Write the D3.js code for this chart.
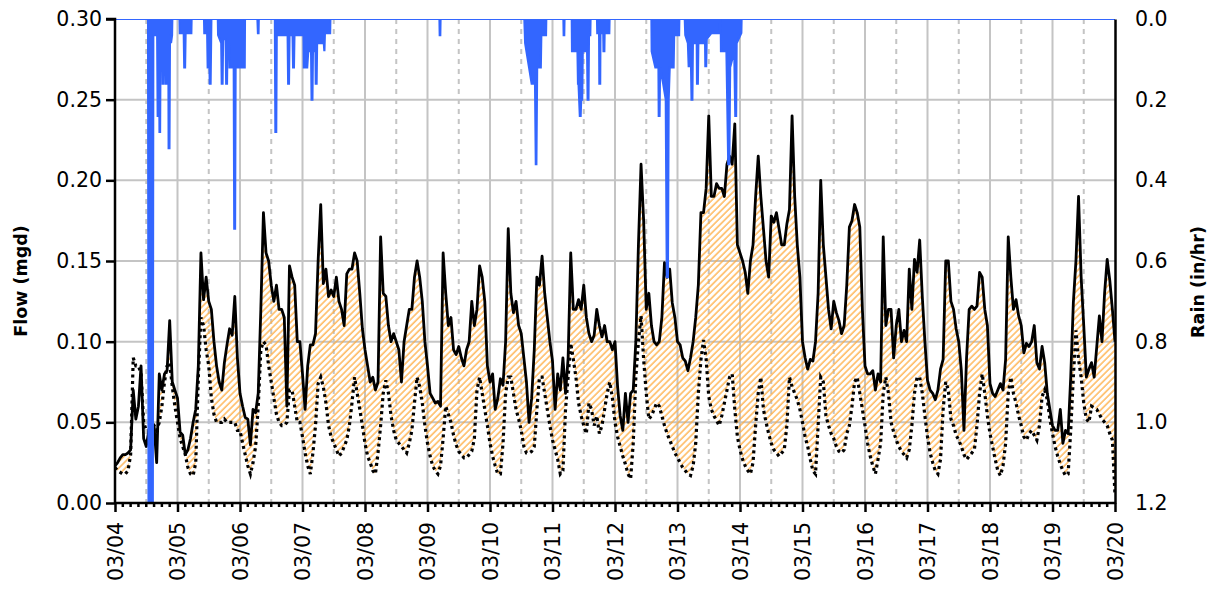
<!DOCTYPE html>
<html><head><meta charset="utf-8">
<script src="https://cdn.jsdelivr.net/npm/d3@7"></script>
<style>body{margin:0;background:#fff} text{font-family:"DejaVu Sans",sans-serif}</style>
</head><body><svg id="c" width="1216" height="594"></svg>
<script>
const dayLabels = ["03/04","03/05","03/06","03/07","03/08","03/09","03/10","03/11","03/12","03/13","03/14","03/15","03/16","03/17","03/18","03/19","03/20"];
const flowTicks = [0,0.05,0.10,0.15,0.20,0.25,0.30];
const rainTicks = [0,0.2,0.4,0.6,0.8,1.0,1.2];

// hourly flow (mgd), 03/04 00:00 .. 03/20 00:00
const flow = [
0.023,0.025,0.028,0.03,0.03,0.031,0.033,0.07,0.052,0.06,0.085,0.04,0.035,0.045,0.048,0.048,0.025,0.08,0.07,0.08,0.082,0.113,0.075,0.07,
0.065,0.044,0.042,0.03,0.033,0.04,0.05,0.058,0.085,0.155,0.126,0.14,0.125,0.12,0.1,0.085,0.075,0.07,0.087,0.098,0.108,0.104,0.128,0.09,
0.068,0.06,0.053,0.052,0.036,0.058,0.056,0.068,0.12,0.18,0.155,0.15,0.135,0.125,0.135,0.12,0.12,0.115,0.06,0.147,0.14,0.135,0.1,0.1,
0.08,0.058,0.085,0.098,0.098,0.105,0.15,0.185,0.136,0.145,0.128,0.132,0.128,0.14,0.125,0.12,0.11,0.142,0.145,0.145,0.155,0.15,0.13,0.108,
0.095,0.085,0.075,0.078,0.07,0.075,0.165,0.13,0.128,0.11,0.1,0.105,0.1,0.095,0.075,0.1,0.11,0.12,0.12,0.14,0.15,0.14,0.125,0.1,
0.085,0.068,0.065,0.062,0.063,0.06,0.155,0.13,0.11,0.115,0.095,0.092,0.097,0.09,0.085,0.095,0.1,0.125,0.11,0.12,0.147,0.14,0.125,0.085,
0.075,0.08,0.058,0.065,0.077,0.073,0.1,0.17,0.13,0.118,0.125,0.11,0.105,0.09,0.075,0.05,0.065,0.095,0.14,0.135,0.153,0.13,0.115,0.1,
0.088,0.058,0.08,0.07,0.09,0.068,0.09,0.155,0.12,0.12,0.126,0.12,0.135,0.115,0.105,0.1,0.104,0.12,0.11,0.103,0.11,0.1,0.1,0.095,
0.1,0.072,0.054,0.045,0.068,0.05,0.068,0.07,0.1,0.16,0.21,0.175,0.12,0.13,0.11,0.1,0.098,0.1,0.115,0.149,0.14,0.145,0.124,0.115,
0.1,0.098,0.09,0.088,0.082,0.09,0.1,0.115,0.135,0.18,0.18,0.195,0.24,0.19,0.19,0.198,0.195,0.195,0.19,0.21,0.215,0.21,0.235,0.16,
0.155,0.15,0.143,0.13,0.15,0.16,0.19,0.215,0.19,0.17,0.15,0.14,0.178,0.174,0.18,0.17,0.16,0.16,0.173,0.182,0.24,0.19,0.16,0.14,
0.1,0.09,0.083,0.089,0.088,0.1,0.13,0.2,0.16,0.14,0.12,0.108,0.125,0.118,0.113,0.105,0.11,0.135,0.171,0.175,0.185,0.18,0.171,0.12,
0.085,0.08,0.08,0.082,0.07,0.08,0.075,0.165,0.11,0.12,0.12,0.09,0.11,0.12,0.1,0.107,0.1,0.145,0.12,0.151,0.143,0.163,0.128,0.1,
0.076,0.07,0.068,0.064,0.07,0.083,0.089,0.15,0.15,0.125,0.12,0.108,0.1,0.082,0.045,0.09,0.12,0.122,0.12,0.122,0.143,0.14,0.12,0.11,
0.074,0.068,0.066,0.07,0.074,0.07,0.089,0.165,0.14,0.12,0.126,0.116,0.11,0.093,0.099,0.097,0.1,0.11,0.087,0.083,0.097,0.087,0.068,0.058,
0.048,0.045,0.045,0.058,0.037,0.045,0.043,0.078,0.124,0.15,0.19,0.14,0.11,0.078,0.083,0.087,0.078,0.097,0.116,0.1,0.13,0.151,0.138,0.12,0.1
];

// hourly dry-weather flow (mgd)
const dryWeatherFlow = [
0.022,0.02,0.019,0.018,0.018,0.02,0.03,0.09,0.085,0.085,0.08,0.05,0.045,0.045,0.047,0.048,0.045,0.05,0.06,0.075,0.085,0.087,0.072,0.06,
0.05,0.04,0.035,0.03,0.022,0.018,0.017,0.025,0.078,0.115,0.11,0.095,0.085,0.065,0.055,0.05,0.05,0.05,0.052,0.05,0.05,0.05,0.05,0.045,
0.045,0.037,0.03,0.023,0.018,0.025,0.035,0.06,0.095,0.1,0.098,0.085,0.075,0.065,0.055,0.05,0.048,0.048,0.05,0.07,0.07,0.06,0.05,0.05,
0.041,0.031,0.023,0.018,0.031,0.048,0.074,0.078,0.072,0.062,0.048,0.041,0.037,0.033,0.029,0.031,0.035,0.039,0.048,0.062,0.078,0.068,0.058,0.048,
0.037,0.029,0.025,0.02,0.018,0.031,0.048,0.068,0.076,0.068,0.054,0.045,0.039,0.037,0.035,0.033,0.031,0.037,0.045,0.062,0.078,0.072,0.062,0.048,
0.037,0.029,0.023,0.02,0.018,0.023,0.04,0.06,0.055,0.05,0.042,0.036,0.032,0.03,0.028,0.028,0.03,0.032,0.04,0.07,0.078,0.068,0.058,0.048,
0.037,0.029,0.023,0.018,0.018,0.037,0.068,0.078,0.078,0.068,0.058,0.052,0.045,0.035,0.031,0.031,0.032,0.035,0.058,0.078,0.078,0.068,0.058,0.048,
0.039,0.033,0.027,0.018,0.02,0.058,0.078,0.099,0.089,0.078,0.062,0.054,0.048,0.043,0.062,0.058,0.048,0.054,0.043,0.048,0.058,0.068,0.075,0.065,
0.05,0.041,0.035,0.029,0.024,0.018,0.015,0.037,0.078,0.1,0.116,0.089,0.068,0.052,0.054,0.058,0.062,0.06,0.054,0.048,0.043,0.039,0.035,0.031,
0.028,0.025,0.022,0.02,0.018,0.017,0.023,0.037,0.068,0.089,0.101,0.089,0.066,0.058,0.054,0.051,0.048,0.054,0.062,0.07,0.078,0.08,0.058,0.041,
0.033,0.027,0.023,0.02,0.018,0.025,0.048,0.068,0.078,0.058,0.05,0.043,0.037,0.033,0.031,0.029,0.031,0.033,0.048,0.078,0.072,0.068,0.064,0.058,
0.05,0.041,0.035,0.027,0.02,0.018,0.048,0.078,0.075,0.054,0.048,0.043,0.04,0.035,0.032,0.031,0.033,0.043,0.048,0.06,0.075,0.078,0.068,0.058,
0.048,0.037,0.029,0.023,0.018,0.027,0.037,0.068,0.078,0.068,0.05,0.044,0.039,0.035,0.032,0.03,0.028,0.033,0.048,0.068,0.078,0.078,0.068,0.054,
0.041,0.031,0.025,0.02,0.018,0.027,0.058,0.075,0.07,0.052,0.048,0.042,0.039,0.035,0.03,0.027,0.029,0.031,0.033,0.048,0.068,0.08,0.068,0.054,
0.043,0.035,0.027,0.02,0.017,0.023,0.037,0.068,0.078,0.068,0.062,0.054,0.048,0.041,0.039,0.043,0.045,0.042,0.039,0.048,0.066,0.07,0.064,0.052,
0.043,0.035,0.029,0.024,0.02,0.017,0.018,0.045,0.078,0.107,0.089,0.078,0.062,0.052,0.05,0.06,0.059,0.058,0.055,0.052,0.05,0.048,0.043,0.039,0.005
];

// rain intensity (in/hr): hours since 03/04 00:00 and rate
const rainHour = [
0,12.7,12.9,14.5,14.7,16.2,16.4,16.6,16.8,16.9,17.1,17.3,17.5,18.2,18.3,18.6,18.8,19.4,19.5,19.8,20.0,20.5,20.6,20.9,21.1,21.5,21.9,22.0,
24.8,24.9,26.4,26.6,26.9,27.1,29.3,29.4,
34.2,34.3,35.4,35.6,35.9,36.1,36.4,36.7,37.0,
39.5,39.6,40.8,41.0,41.3,41.5,42.5,42.7,43.0,43.2,43.9,44.0,45.6,45.8,46.1,46.3,49.8,49.9,
54.7,54.9,55.1,55.2,
61.4,61.6,61.9,62.1,66.3,66.5,66.8,67.0,68.2,68.4,68.7,68.9,72.4,72.5,73.8,74.2,75.3,75.5,75.8,76.0,77.0,77.1,77.4,77.6,80.2,80.4,80.6,82.6,82.7,
124.6,124.7,124.9,125.0,
157.2,157.5,159.0,160.0,161.3,161.6,161.8,162.1,163.5,163.7,165.5,165.6,
172.2,172.3,172.5,172.6,
175.4,175.5,177.6,177.8,178.0,178.5,178.8,179.0,179.4,179.6,181.3,181.5,181.8,182.0,182.5,182.6,
185.1,185.2,185.9,186.0,186.3,186.4,187.5,187.6,187.9,188.0,189.8,189.9,
206.0,206.1,207.5,208.7,208.8,209.1,209.3,210.5,211.5,211.9,212.3,212.6,213.0,214.5,214.7,216.6,216.7,
218.8,219.0,220.0,220.3,221.2,221.4,221.7,221.9,223.4,223.5,223.8,224.0,226.6,226.7,227.0,227.2,229.0,232.0,232.1,
232.6,232.7,234.8,235.5,235.9,236.2,237.8,238.2,238.5,238.7,240.5,240.6,
384
];
const rainRate = [
0,0,1.3,1.3,0.04,0.04,0.24,0.24,0.04,0.04,0.28,0.28,0.04,0.04,0.16,0.16,0.04,0.04,0.16,0.16,0.04,0.04,0.32,0.32,0.04,0.06,0.04,0,
0,0.035,0.035,0.12,0.12,0.035,0.035,0,
0,0.035,0.035,0.12,0.12,0.04,0.16,0.16,0,
0,0.04,0.06,0.16,0.16,0.05,0.05,0.16,0.16,0.06,0.06,0.12,0.12,0.52,0.52,0.12,0.12,0,
0,0.035,0.035,0,
0,0.28,0.28,0.04,0.04,0.16,0.16,0.04,0.04,0.12,0.12,0.04,0.04,0.12,0.12,0.08,0.08,0.2,0.2,0.08,0.08,0.16,0.16,0.06,0.06,0.08,0.035,0.035,0,
0,0.04,0.04,0,
0,0.06,0.12,0.16,0.16,0.36,0.36,0.12,0.12,0.04,0.04,0,
0,0.04,0.04,0,
0,0.08,0.08,0.16,0.16,0.24,0.24,0.2,0.2,0.08,0.08,0.2,0.2,0.04,0.04,0,
0,0.035,0.035,0.16,0.16,0.035,0.035,0.08,0.08,0.035,0.035,0,
0,0.08,0.12,0.12,0.24,0.24,0.12,0.16,0.2,0.64,0.64,0.2,0.12,0.12,0.04,0.04,0,
0,0.04,0.06,0.117,0.117,0.2,0.2,0.06,0.06,0.16,0.16,0.06,0.06,0.117,0.117,0.05,0.035,0.035,0,
0,0.08,0.08,0.36,0.36,0.12,0.08,0.24,0.24,0.06,0.035,0,
0
];

const L = 115, R = 1115, T = 19, B = 503;
const start = Date.UTC(2023, 2, 4);
const hr = h => new Date(start + h * 3600e3);
const x = d3.scaleUtc().domain([hr(0), hr(384)]).range([L, R]);
const y = d3.scaleLinear().domain([0, 0.3]).range([B, T]);
const yR = d3.scaleLinear().domain([0, 1.2]).range([T, B]);

const svg = d3.select("#c");
const defs = svg.append("defs");
defs.append("clipPath").attr("id", "plot").append("rect")
  .attr("x", L).attr("y", T).attr("width", R - L).attr("height", B - T);
const pat = defs.append("pattern").attr("id", "hatch").attr("patternUnits", "userSpaceOnUse")
  .attr("width", 4.6).attr("height", 4.6).attr("patternTransform", "rotate(45)");
pat.append("line").attr("x1", 1).attr("y1", -1).attr("x2", 1).attr("y2", 6)
  .attr("stroke", "#ffac40").attr("stroke-width", 1.3);

const dayDates = dayLabels.map((_, i) => hr(i * 24));

// grid
const grid = svg.append("g");
flowTicks.filter(v => v > 0 && v < 0.3).forEach(v => {
  grid.append("line").attr("x1", L).attr("x2", R).attr("y1", y(v)).attr("y2", y(v))
    .attr("stroke", "#c4c4c4").attr("stroke-width", 2);
});
dayDates.slice(1, -1).forEach(d => {
  grid.append("line").attr("x1", x(d)).attr("x2", x(d)).attr("y1", T).attr("y2", B)
    .attr("stroke", "#c4c4c4").attr("stroke-width", 2);
});
dayDates.slice(0, -1).forEach((d, i) => {
  const xx = x(hr(i * 24 + 12));
  grid.append("line").attr("x1", xx).attr("x2", xx).attr("y1", T).attr("y2", B)
    .attr("stroke", "#c4c4c4").attr("stroke-width", 2).attr("stroke-dasharray", "5,5");
});

const idx = d3.range(flow.length);
const plot = svg.append("g").attr("clip-path", "url(#plot)");

// hatch between flow and dry weather flow
plot.append("path").datum(idx)
  .attr("d", d3.area().x(i => x(hr(i))).y0(i => y(dryWeatherFlow[i]))
    .y1(i => y(Math.max(flow[i], dryWeatherFlow[i]))))
  .attr("fill", "url(#hatch)");

plot.append("path").datum(idx)
  .attr("d", d3.line().x(i => x(hr(i))).y(i => y(dryWeatherFlow[i])))
  .attr("fill", "none").attr("stroke", "#000").attr("stroke-width", 3.2)
  .attr("stroke-dasharray", "3,3.5");

plot.append("path").datum(idx)
  .attr("d", d3.line().x(i => x(hr(i))).y(i => y(flow[i])))
  .attr("fill", "none").attr("stroke", "#000").attr("stroke-width", 2.8)
  .attr("stroke-linejoin", "round");

// rain
const rIdx = d3.range(rainHour.length);
plot.append("path").datum(rIdx)
  .attr("d", d3.area().x(i => x(hr(rainHour[i]))).y0(yR(0)).y1(i => yR(rainRate[i])))
  .attr("fill", "#3366ff");
plot.append("path").datum(rIdx)
  .attr("d", d3.line().x(i => x(hr(rainHour[i]))).y(i => yR(rainRate[i])))
  .attr("fill", "none").attr("stroke", "#3366ff").attr("stroke-width", 2.2);

// axes
const fs = "20.5px";
const ax = svg.append("g").attr("transform", `translate(${L},0)`)
  .call(d3.axisLeft(y).tickValues(flowTicks).tickFormat(d3.format(".2f")).tickSize(9).tickPadding(4));
ax.select(".domain").attr("stroke-width", 2.5).attr("d", `M-9,${T}H0V${B}`);
ax.selectAll(".tick line").attr("stroke-width", 2.5);
ax.selectAll("text").style("font-size", fs).attr("fill", "#000");

const axr = svg.append("g").attr("transform", `translate(${R},0)`)
  .call(d3.axisRight(yR).tickValues(rainTicks).tickFormat(d3.format(".1f")).tickSize(0).tickPadding(20));
axr.select(".domain").attr("stroke-width", 2.5);
axr.selectAll("text").style("font-size", fs).attr("fill", "#000");

// minor x ticks every 3 hours
const minor = svg.append("g");
d3.range(3, 384, 3).filter(h => h % 24 !== 0).forEach(h => {
  minor.append("line").attr("x1", x(hr(h))).attr("x2", x(hr(h))).attr("y1", B).attr("y2", B + 4)
    .attr("stroke", "#000").attr("stroke-width", 2.5);
});

const axb = svg.append("g").attr("transform", `translate(0,${B})`)
  .call(d3.axisBottom(x).tickValues(dayDates).tickFormat((d, i) => dayLabels[i]).tickSize(9).tickPadding(4));
axb.select(".domain").attr("stroke-width", 2.5).attr("d", `M${L},0H${R}`);
axb.selectAll(".tick line").attr("stroke-width", 2.5);
axb.selectAll("text").style("font-size", fs).attr("fill", "#000")
  .attr("text-anchor", "end").attr("transform", "rotate(-90)")
  .attr("x", -19).attr("y", 0).attr("dy", "0.35em");

svg.append("text").attr("transform", "translate(27,281) rotate(-90)")
  .attr("text-anchor", "middle").style("font-size", "17.5px").style("font-weight", "bold")
  .text("Flow (mgd)");
svg.append("text").attr("transform", "translate(1204,282) rotate(-90)")
  .attr("text-anchor", "middle").style("font-size", "17.5px").style("font-weight", "bold")
  .text("Rain (in/hr)");
</script></body></html>
